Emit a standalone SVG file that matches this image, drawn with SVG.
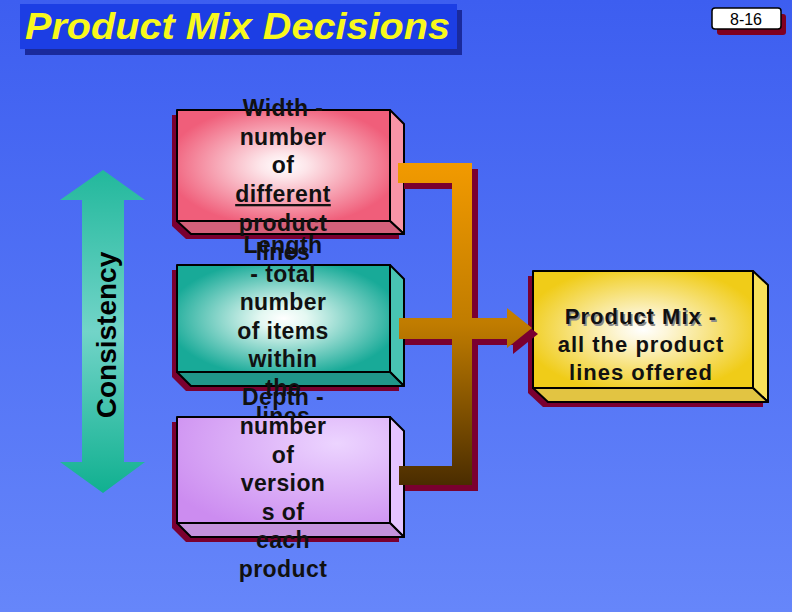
<svg xmlns="http://www.w3.org/2000/svg" width="792" height="612" viewBox="0 0 792 612">
<defs>
<linearGradient id="bg" x1="0" y1="0" x2="0" y2="1"><stop offset="0" stop-color="#3d5ef0"/><stop offset="1" stop-color="#6686fa"/></linearGradient>
<linearGradient id="consGrad" gradientUnits="userSpaceOnUse" x1="0" y1="170" x2="0" y2="493"><stop offset="0" stop-color="#22b89c"/><stop offset="0.5" stop-color="#72d4c8"/><stop offset="1" stop-color="#10b090"/></linearGradient>
<linearGradient id="connGrad" gradientUnits="userSpaceOnUse" x1="0" y1="163" x2="0" y2="485"><stop offset="0" stop-color="#f29a00"/><stop offset="0.5" stop-color="#c07c00"/><stop offset="1" stop-color="#4a2c00"/></linearGradient>
<radialGradient id="pinkGrad" cx="0.5" cy="0.5" r="0.55"><stop offset="0" stop-color="#ffffff"/><stop offset="0.2" stop-color="#fde6ea"/><stop offset="1" stop-color="#f05e7a"/></radialGradient>
<radialGradient id="tealGrad" cx="0.5" cy="0.5" r="0.55"><stop offset="0" stop-color="#ffffff"/><stop offset="0.2" stop-color="#e4f8f2"/><stop offset="1" stop-color="#18aa98"/></radialGradient>
<radialGradient id="lavGrad" cx="0.75" cy="0.25" r="0.9"><stop offset="0" stop-color="#ecd4ff"/><stop offset="1" stop-color="#cc8cf0"/></radialGradient>
<radialGradient id="yelGrad" cx="0.5" cy="0.5" r="0.55"><stop offset="0" stop-color="#ffffff"/><stop offset="0.2" stop-color="#fdf6d8"/><stop offset="1" stop-color="#f0cc18"/></radialGradient>
<style>
.edge{stroke:#000;stroke-width:2;stroke-linejoin:round}
.shadow{fill:#7a0030}
.btxt{font-family:"Liberation Sans",Arial,sans-serif;font-weight:bold;font-size:23px;letter-spacing:0.4px;fill:#111;text-anchor:middle}
.ytxt{font-family:"Liberation Sans",Arial,sans-serif;font-weight:bold;font-size:22px;letter-spacing:1px;fill:#111;text-anchor:middle}
.yshd{fill:#8a8a8a}
</style>
</defs>
<rect width="792" height="612" fill="url(#bg)"/>

<g id="title">
<rect x="25" y="10" width="437" height="45" fill="#1a2a9c"/>
<rect x="20" y="4" width="437" height="45" fill="#1c3ee4"/>
<text x="25" y="39" textLength="425" lengthAdjust="spacingAndGlyphs" font-family="'Liberation Sans',Arial,sans-serif" font-size="36" font-weight="bold" font-style="italic" fill="#f8f81c">Product Mix Decisions</text>
</g>

<g id="page-number">
<rect x="717" y="14" width="69" height="21" rx="3" fill="#800020"/>
<rect x="712" y="8" width="69" height="21" rx="3" fill="#ffffff" stroke="#000" stroke-width="1.5"/>
<text x="746" y="25" text-anchor="middle" font-family="'Liberation Sans',Arial,sans-serif" font-size="16" fill="#000">8-16</text>
</g>

<g id="consistency">
<polygon points="103,170 145,200 124,200 124,462 145,462 103,493 60,462 82,462 82,200 60,200" fill="url(#consGrad)"/>
<text transform="translate(116,335) rotate(-90)" text-anchor="middle" font-family="'Liberation Sans',Arial,sans-serif" font-size="28" font-weight="bold" fill="#000">Consistency</text>
</g>

<g id="width-box">
<polygon class="shadow" points="172,115 385,115 399,129 399,239 186,239 172,226"/>
<rect class="edge" x="177" y="110" width="213" height="111" fill="url(#pinkGrad)"/>
<polygon class="edge" points="390,110 404,124 404,234 390,221" fill="#f894a6"/>
<polygon class="edge" points="177,221 390,221 404,234 191,234" fill="#d4607a"/>
<text class="btxt" x="283" y="116">Width -</text>
<text class="btxt" x="283" y="145">number</text>
<text class="btxt" x="283" y="173">of</text>
<text class="btxt" x="283" y="202" text-decoration="underline">different</text>
<text class="btxt" x="283" y="231">product</text>
<text class="btxt" x="283" y="260">lines</text>
</g>

<g id="length-box">
<polygon class="shadow" points="172,270 385,270 399,284 399,391 186,391 172,377"/>
<rect class="edge" x="177" y="265" width="213" height="107" fill="url(#tealGrad)"/>
<polygon class="edge" points="390,265 404,279 404,386 390,372" fill="#48c4b2"/>
<polygon class="edge" points="177,372 390,372 404,386 191,386" fill="#20968a"/>
<text class="btxt" x="283" y="253">Length</text>
<text class="btxt" x="283" y="282">- total</text>
<text class="btxt" x="283" y="310">number</text>
<text class="btxt" x="283" y="339">of items</text>
<text class="btxt" x="283" y="367">within</text>
<text class="btxt" x="283" y="396">the</text>
<text class="btxt" x="283" y="424">lines</text>
</g>

<g id="depth-box">
<polygon class="shadow" points="172,422 385,422 399,436 399,542 186,542 172,528"/>
<rect class="edge" x="177" y="417" width="213" height="106" fill="url(#lavGrad)"/>
<polygon class="edge" points="390,417 404,431 404,537 390,523" fill="#e4c4ff"/>
<polygon class="edge" points="177,523 390,523 404,537 191,537" fill="#c492dc"/>
<text class="btxt" x="283" y="405">Depth -</text>
<text class="btxt" x="283" y="434">number</text>
<text class="btxt" x="283" y="463">of</text>
<text class="btxt" x="283" y="491">version</text>
<text class="btxt" x="283" y="520">s of</text>
<text class="btxt" x="283" y="548">each</text>
<text class="btxt" x="283" y="577">product</text>
</g>

<g id="product-mix-box">
<polygon class="shadow" points="528,276 748,276 763,290 763,407 543,407 528,393"/>
<rect class="edge" x="533" y="271" width="220" height="117" fill="url(#yelGrad)"/>
<polygon class="edge" points="753,271 768,285 768,402 753,388" fill="#f8e05a"/>
<polygon class="edge" points="533,388 753,388 768,402 548,402" fill="#e2c442"/>
<text class="ytxt yshd" x="642.5" y="325.5">Product Mix -</text>
<text class="ytxt" x="641" y="324">Product Mix -</text>
<text class="ytxt" x="641" y="352">all the product</text>
<text class="ytxt" x="641" y="380">lines offered</text>
</g>

<g id="connectors">
<g class="shadow" transform="translate(6,6)">
<rect x="398" y="163" width="74" height="20"/>
<rect x="452" y="163" width="20" height="322"/>
<rect x="399" y="466" width="73" height="19"/>
<polygon points="399,318 507,318 507,308 532,328 507,348 507,339 399,339"/>
</g>
<g fill="url(#connGrad)">
<rect x="398" y="163" width="74" height="20"/>
<rect x="452" y="163" width="20" height="322"/>
<rect x="399" y="466" width="73" height="19"/>
<polygon points="399,318 507,318 507,308 532,328 507,348 507,339 399,339"/>
</g>
</g>
</svg>
